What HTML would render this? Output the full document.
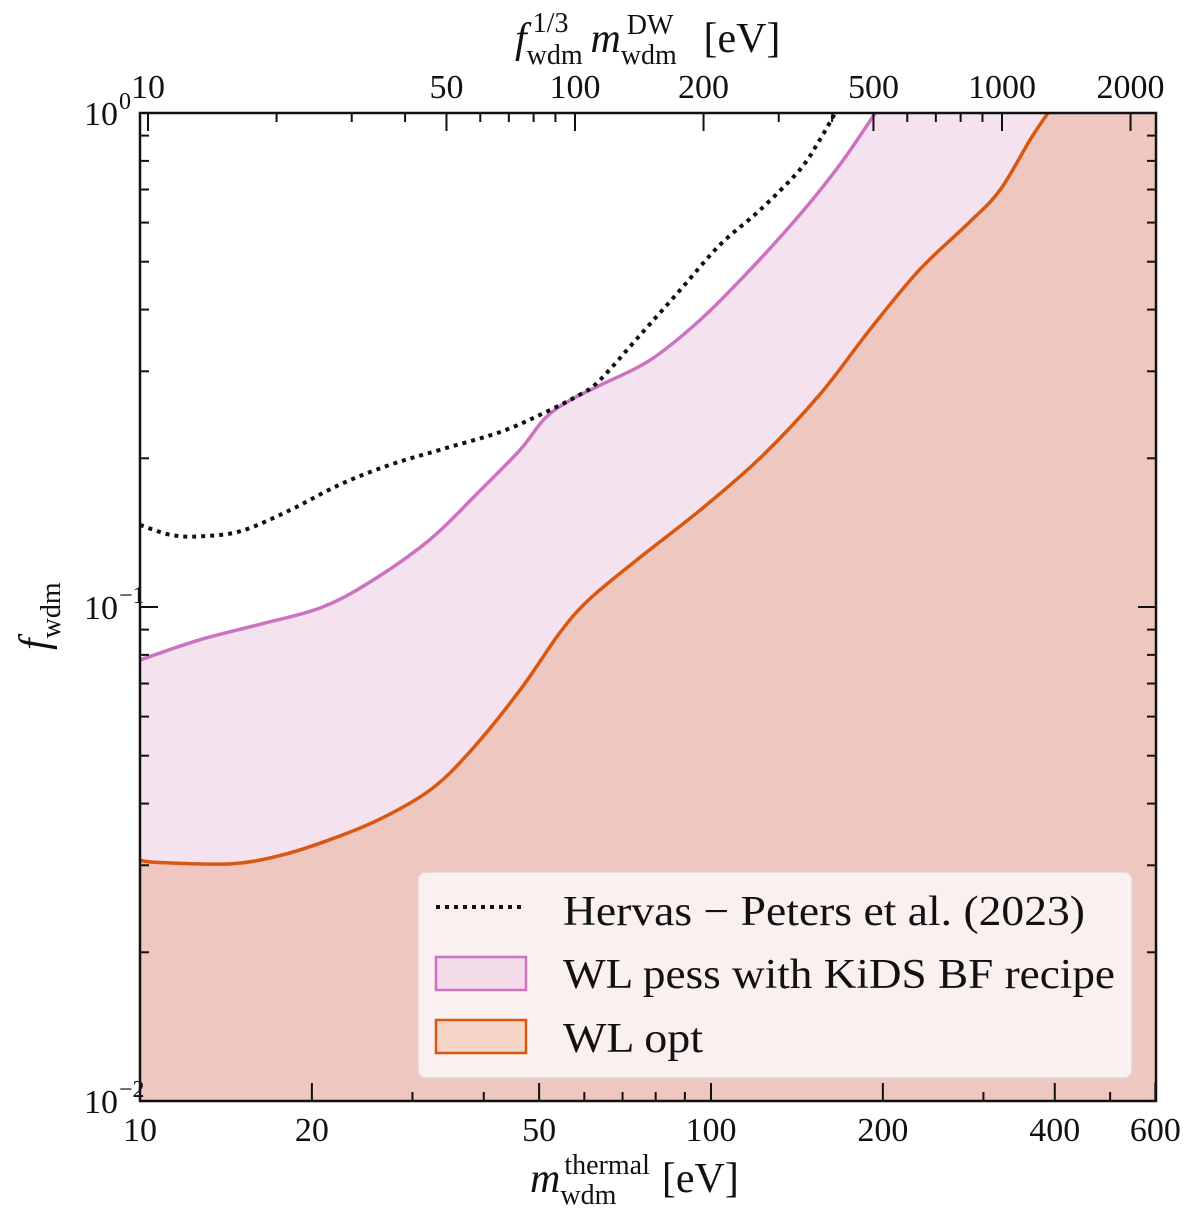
<!DOCTYPE html>
<html><head><meta charset="utf-8"><style>
html,body{margin:0;padding:0;background:#fff}
svg{display:block}
text{font-family:"Liberation Serif",serif;fill:#111}
</style></head><body>
<svg id="chart" width="1200" height="1220" viewBox="0 0 1200 1220" xmlns="http://www.w3.org/2000/svg"></svg>
<script>
// ---- data ----
const optMass = [10,10.8,14.4,17.6,21.5,26.3,32.2,37.8,46.3,54.4,61.4,75.1,95.7,121.8,155,190,232,284,321,362,389];
const optF    = [0.0307,0.0304,0.0302,0.0314,0.0338,0.0372,0.0426,0.0509,0.0679,0.0888,0.104,0.126,0.157,0.2,0.269,0.365,0.482,0.602,0.699,0.882,1.0];
const pessMass = [10,12.7,16.2,20.7,25.3,32.2,39.4,46.3,51.2,56.6,63.9,78.2,95.7,117,143,168,194];
const pessF    = [0.0781,0.0858,0.0922,0.0996,0.1124,0.137,0.172,0.208,0.241,0.262,0.281,0.316,0.381,0.481,0.622,0.785,1.0];
const hpMass = [10,11.3,12.7,15.0,18.3,22.4,27.4,33.5,42.7,50.2,58.9,63.9,75.1,88.3,103.7,121.8,143,155,165];
const hpF    = [0.1466,0.140,0.139,0.1424,0.157,0.177,0.194,0.208,0.226,0.245,0.269,0.288,0.355,0.438,0.541,0.636,0.767,0.882,1.0];
const xTickLabels = [10,20,50,100,200,400,600];
const topTickLabels = [10,50,100,200,500,1000,2000];
const yTickExps = [0,-1,-2];

const L=140,R=1156,T=113,B=1101;
const xs=v=>L+571*(Math.log10(v)-1);
const xt=v=>148+427*(Math.log10(v)-1);
const ys=v=>T-494*Math.log10(v);
const NS="http://www.w3.org/2000/svg";
const svg=document.getElementById('chart');
function mk(tag,attrs,parent){const e=document.createElementNS(NS,tag);for(const k in attrs)e.setAttribute(k,attrs[k]);(parent||svg).appendChild(e);return e;}
function smooth(m,f){
  const p=m.map((v,i)=>[xs(v),ys(f[i])]);
  let d='M'+p[0][0].toFixed(1)+','+p[0][1].toFixed(1);
  for(let i=0;i<p.length-1;i++){
    const p0=p[Math.max(0,i-1)],p1=p[i],p2=p[i+1],p3=p[Math.min(p.length-1,i+2)];
    const c1=[p1[0]+(p2[0]-p0[0])/6,p1[1]+(p2[1]-p0[1])/6];
    const c2=[p2[0]-(p3[0]-p1[0])/6,p2[1]-(p3[1]-p1[1])/6];
    d+=` C${c1[0].toFixed(1)},${c1[1].toFixed(1)} ${c2[0].toFixed(1)},${c2[1].toFixed(1)} ${p2[0].toFixed(1)},${p2[1].toFixed(1)}`;
  }
  return d;
}

const clip=mk('clipPath',{id:'pc'});mk('rect',{x:L,y:T,width:R-L,height:B-T},clip);
const g=mk('g',{'clip-path':'url(#pc)'});

const pd=smooth(pessMass,pessF), od=smooth(optMass,optF);
const pessFill=mk('path',{d:pd+` L${R},${T} L${R},${B} L${L},${B} Z`,fill:'#f4e2ef'},g);


const optFill=mk('path',{d:od+` L${R},${T} L${R},${B} L${L},${B} Z`,fill:'#eec7c0'},g);


const pessLine=mk('path',{d:pd,fill:'none',stroke:'#cc73c0','stroke-width':3.5},g);


const optLine=mk('path',{d:od,fill:'none',stroke:'#d9570f','stroke-width':3.5},g);


const hpLine=mk('path',{d:smooth(hpMass,hpF),fill:'none',stroke:'#111','stroke-width':4,'stroke-dasharray':'4,5'},g);



const frame=mk('rect',{x:L,y:T,width:R-L,height:B-T,fill:'none',stroke:'#111','stroke-width':2.5});



for(let d=10;d<=100;d*=10)for(let k=1;k<10;k++){const v=k*d;if(v<10||v>600)continue;const x=xs(v);const maj=xTickLabels.includes(v);const len=maj?18:9;
 mk('line',{x1:x,y1:B,x2:x,y2:B-len,stroke:'#111','stroke-width':2});}
xTickLabels.forEach(v=>{const t=mk('text',{x:xs(v),y:1141,'font-size':34,'text-anchor':'middle'});t.textContent=v;
 });
for(let d=10;d<=1000;d*=10)for(let k=1;k<10;k++){const v=k*d;const x=xt(v);if(x<L||x>R)continue;const maj=topTickLabels.includes(v);const len=maj?18:9;
 mk('line',{x1:x,y1:T,x2:x,y2:T+len,stroke:'#111','stroke-width':2});}
topTickLabels.forEach(v=>{const t=mk('text',{x:xt(v),y:98,'font-size':34,'text-anchor':'middle'});t.textContent=v;
 });
[0.01,0.1].forEach(d=>{for(let k=1;k<=10;k++){const v=k*d;const y=ys(v);const len=(k==1||k==10)?18:9;
 mk('line',{x1:L,y1:y,x2:L+len,y2:y,stroke:'#111','stroke-width':2});mk('line',{x1:R,y1:y,x2:R-len,y2:y,stroke:'#111','stroke-width':2});}});
yTickExps.forEach(e=>{const y=ys(Math.pow(10,e));const t=mk('text',{x:118,y:y+12,'font-size':34,'text-anchor':'end'});t.textContent='10';
 
 const s=mk('text',{x:119,y:y-4,'font-size':24});s.textContent=e==0?'0':'−'+(-e);});

const xtitle=mk('text',{x:530,y:1192,'font-size':42,'font-style':'italic'});xtitle.innerHTML='m<tspan font-size="28" font-style="normal" dy="12">wdm</tspan><tspan font-size="28" font-style="normal" dx="-52" dy="-30">thermal</tspan><tspan font-style="normal" dy="18" dx="12">[eV]</tspan>';

const ttitle=mk('text',{x:515,y:52,'font-size':42,'font-style':'italic'});ttitle.innerHTML='f<tspan font-size="28" font-style="normal" dy="12">wdm</tspan><tspan font-size="28" font-style="normal" dx="-50" dy="-32">1/3</tspan><tspan dx="22" dy="20">m</tspan><tspan font-size="28" font-style="normal" dy="12">wdm</tspan><tspan font-size="28" font-style="normal" dx="-50" dy="-30">DW</tspan><tspan font-style="normal" dy="18" dx="30">[eV]</tspan>';

const ytitle=mk('text',{transform:'translate(48,650) rotate(-90)','font-size':42,'font-style':'italic'});ytitle.innerHTML='f<tspan font-size="28" font-style="normal" dy="12">wdm</tspan>';


const lg=mk('g',{});
mk('rect',{x:418,y:872,width:714,height:206,rx:8,fill:'#fbf0f0',stroke:'#e2d6d6','stroke-width':1.5},lg);
mk('line',{x1:436,y1:907,x2:526,y2:907,stroke:'#111','stroke-width':4,'stroke-dasharray':'4,5'},lg);
mk('rect',{x:436,y:957,width:90,height:33,fill:'#f3dbe9',stroke:'#cc73c0','stroke-width':2.5},lg);
mk('rect',{x:436,y:1020,width:90,height:33,fill:'#f5d5c5',stroke:'#d9570f','stroke-width':2.5},lg);
[['Hervas − Peters et al. (2023)',925,'legend-entry-hervas',522],['WL pess with KiDS BF recipe',988,'legend-entry-wl-pess',552],['WL opt',1052,'legend-entry-wl-opt',140]].forEach(a=>{
 const t=mk('text',{x:563,y:a[1],'font-size':42,textLength:a[3],lengthAdjust:'spacingAndGlyphs'},lg);t.textContent=a[0];
 });
</script>
</body></html>
